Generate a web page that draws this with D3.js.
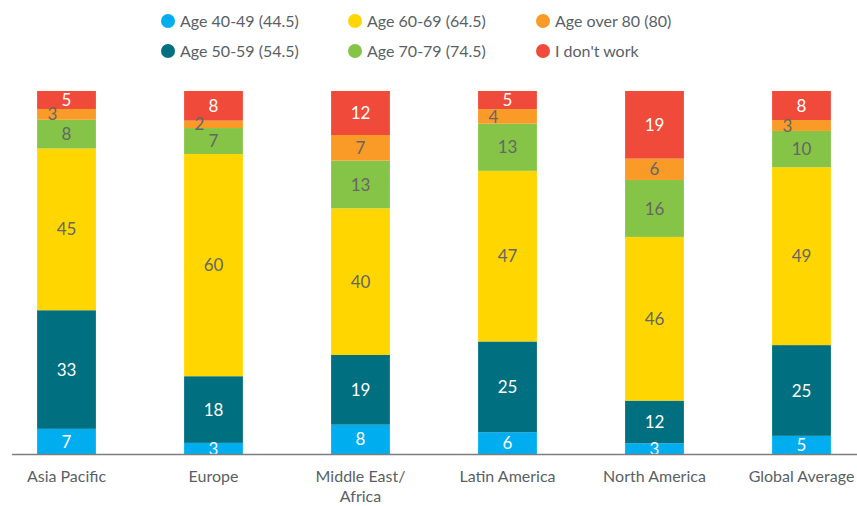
<html>
<script src='https://d3js.org/d3.v7.min.js'></script>
<style>
  body {margin:0; background:#fff;}
  text {font-family: Lato, sans-serif;}
</style>
<body onload='init()'>
<svg width=857 height=506></svg>
<script>
// data
const regions = ['Asia Pacific', 'Europe', 'Middle East/\nAfrica', 'Latin America', 'North America', 'Global Average'];
const groups  = ['Age 40-49 (44.5)', 'Age 50-59 (54.5)', 'Age 60-69 (64.5)', 'Age 70-79 (74.5)', 'Age over 80 (80)', "I don't work"];
const age4049 = [7, 3, 8, 6, 3, 5];
const age5059 = [33, 18, 19, 25, 12, 25];
const age6069 = [45, 60, 40, 47, 46, 49];
const age7079 = [8, 7, 13, 13, 16, 10];
const ageOver80 = [3, 2, 7, 4, 6, 3];
const noWork  = [5, 8, 12, 5, 19, 8];

const colors = ['#00aeef', '#006f80', '#ffd600', '#85c446', '#f99b26', '#f04a3a'];
const textCol = ['#fff', '#fff', '#666', '#666', '#666', '#fff'];

function init() {
  const svg = d3.select('svg');
  const series = [age4049, age5059, age6069, age7079, ageOver80, noWork];
  const rows = regions.map((r, i) => {
    const o = {region: r};
    groups.forEach((g, k) => o[g] = series[k][i]);
    return o;
  });

  const stacked = d3.stack().keys(groups).offset(d3.stackOffsetExpand)(rows);

  const x = d3.scaleBand().domain(regions).range([-7, 875]).paddingInner(0.6).paddingOuter(0.3);
  const y = d3.scaleLinear().domain([0, 1]).range([454, 91]);

  const layer = svg.append('g').selectAll('g')
    .data(stacked).enter().append('g')
    .attr('fill', (d, i) => colors[i]);

  layer.selectAll('rect')
    .data(d => d).enter().append('rect')
    .attr('x', d => x(d.data.region))
    .attr('width', x.bandwidth())
    .attr('y', d => y(d[1]))
    .attr('height', d => y(d[0]) - y(d[1]));

  // value labels
  stacked.forEach((s, k) => {
    svg.append('g').selectAll('text')
      .data(s).enter().append('text')
      .attr('x', d => {
        const h = y(d[0]) - y(d[1]);
        let cx = x(d.data.region) + x.bandwidth() / 2;
        if (k > 0 && h < 16) cx -= 14;
        return cx;
      })
      .attr('y', d => (y(d[0]) + y(d[1])) / 2)
      .attr('dy', '0.36em')
      .attr('text-anchor', 'middle')
      .attr('font-size', 17)
      .attr('fill', textCol[k])
      .text(d => d.data[groups[k]]);
  });

  // baseline
  svg.append('line')
    .attr('x1', 12).attr('x2', 857)
    .attr('y1', 454.5).attr('y2', 454.5)
    .attr('stroke', '#7d7d7d').attr('stroke-width', 1.5);

  // category labels
  const cat = svg.append('g').selectAll('text')
    .data(regions).enter().append('text')
    .attr('x', d => x(d) + x.bandwidth() / 2)
    .attr('y', 482)
    .attr('text-anchor', 'middle')
    .attr('font-size', 16)
    .attr('fill', '#5a5f66');
  cat.each(function(d) {
    d.split('\n').forEach((line, j) => {
      d3.select(this).append('tspan')
        .attr('x', x(d) + x.bandwidth() / 2)
        .attr('dy', j ? 20 : 0)
        .text(line);
    });
  });

  // legend
  const legX = [168, 355, 543];
  const legend = svg.append('g').selectAll('g')
    .data(groups).enter().append('g')
    .attr('transform', (d, i) => 'translate(' + legX[Math.floor(i / 2)] + ',' + (i % 2 ? 51 : 21) + ')');
  legend.append('circle').attr('r', 7).attr('fill', (d, i) => colors[i]);
  legend.append('text')
    .attr('x', 12).attr('dy', '0.36em')
    .attr('font-size', 16)
    .attr('fill', '#5a5f66')
    .text(d => d);
}
</script>
</body>
</html>
